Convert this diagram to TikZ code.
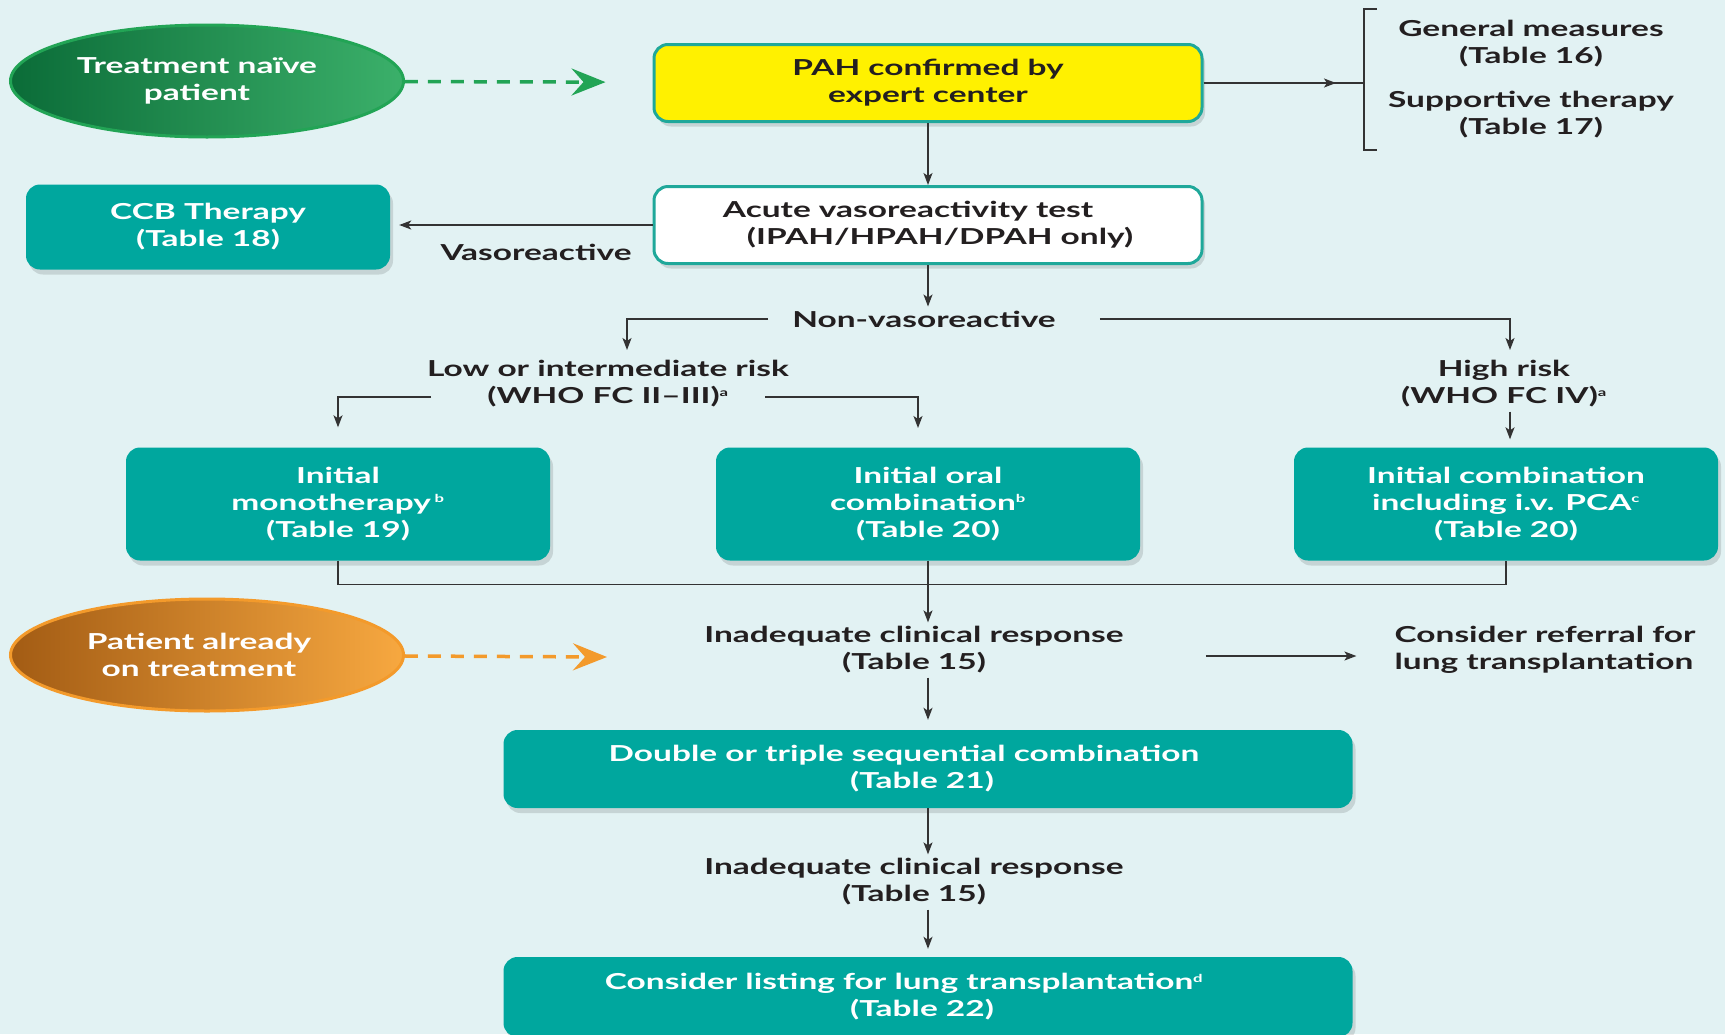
\documentclass[tikz,border=0pt]{standalone}
\usepackage{fontspec}
\setmainfont{Lato}[FakeStretch=1.52]
\usetikzlibrary{positioning,shapes.geometric,arrows.meta,shadows}

\definecolor{bgc}{HTML}{E2F2F3}
\definecolor{inkc}{HTML}{231F20}
\definecolor{linec}{HTML}{333333}
\definecolor{tealc}{HTML}{00A79E}
\definecolor{rimc}{HTML}{1FA89A}
\definecolor{yellowc}{HTML}{FFF100}
\definecolor{greendk}{HTML}{0B6C38}
\definecolor{greenlt}{HTML}{3BB06A}
\definecolor{greenrim}{HTML}{22A455}
\definecolor{orangedk}{HTML}{A35C14}
\definecolor{orangelt}{HTML}{F7A840}
\definecolor{orangerim}{HTML}{F39A2B}

\newcommand{\sups}[1]{\textsuperscript{\fontsize{11}{11}\selectfont #1}}

\begin{document}
\begin{tikzpicture}[x=1pt,y=-1pt]
    \tikzset{
    flow/.style={
        font=\fontsize{22}{27}\selectfont\bfseries,
        text=inkc,
        align=center,
        inner sep=4pt
    },
    tealbox/.style={
        flow,
        fill=tealc,
        text=white,
        rounded corners=14pt,
        minimum width=424pt,
        minimum height=113pt,
        drop shadow={shadow xshift=3pt,shadow yshift=-5pt,opacity=0.12,fill=black}
    },
    rimbox/.style={
        flow,
        draw=rimc,
        line width=3pt,
        rounded corners=14pt,
        minimum width=548pt,
        minimum height=77pt,
        drop shadow={shadow xshift=3pt,shadow yshift=-5pt,opacity=0.12,fill=black}
    },
    startnode/.style={
        flow,
        ellipse,
        text=white,
        line width=3pt,
        minimum width=393pt,
        minimum height=112pt
    },
    link/.style={
        draw=linec,
        line width=1.5pt,
        -{Stealth[length=12pt,width=9pt,inset=3pt]}
    },
    line/.style={
        draw=linec,
        line width=1.5pt
    },
    dashlink/.style={
        line width=3.5pt,
        dash pattern=on 13pt off 10pt,
        -{Stealth[length=34pt,width=27pt,inset=12pt]}
    }
}
        \clip (0,0) rectangle (1725,1034);
        \fill[bgc] (0,0) rectangle (1725,1034);

        % start points
        \node[startnode, draw=greenrim, left color=greendk, right color=greenlt] (naive) at (207,81) {Treatment naïve\hspace*{20pt}\\patient\hspace*{20pt}};
        \node[startnode, draw=orangerim, left color=orangedk, right color=orangelt] (treated) at (207,655) {Patient already\hspace*{16pt}\\on treatment\hspace*{16pt}};

        \node[rimbox, fill=yellowc] (pah) at (928,83) {PAH confirmed by\\expert center};
        \node[rimbox, fill=white, align=left] (acute) at (928,225) {Acute vasoreactivity test\\\hspace*{24pt}(IPAH/HPAH/DPAH only)};
        \node[tealbox, minimum width=364pt, minimum height=85pt] (ccb) at (208,227) {CCB Therapy\\(Table 18)};
        \node[flow] (vaso) at (536,252) {Vasoreactive};

        \node[flow] (general) at (1531,44) {General measures\\(Table 16)};
        \node[flow] (support) at (1531,115) {Supportive therapy\\(Table 17)};
        \coordinate (brk) at (1364,83);

        \node[flow] (nonvaso) at (924,319) {Non-vasoreactive};
        \node[flow] (lowrisk) at (608,384) {Low or intermediate risk\\(WHO FC II–III)\sups{a}};
        \node[flow] (highrisk) at (1504,384) {High risk\\(WHO FC IV)\sups{a}};
        \coordinate (lowtop) at (627,350);
        \coordinate (hightop) at (1510,350);
        \coordinate (lowL) at (431,397);
        \coordinate (lowR) at (765,397);
        \coordinate (oraltop) at (918,428);

        \node[tealbox] (mono) at (338,504) {Initial\\monotherapy\,\sups{b}\\(Table 19)};
        \node[tealbox] (oral) at (928,504) {Initial oral\\combination\sups{b}\\(Table 20)};
        \node[tealbox] (ivcomb) at (1506,504) {Initial combination\\including i.v. PCA\sups{c}\\(Table 20)};

        \node[flow] (inad1) at (914,650) {Inadequate clinical response\\(Table 15)};
        \node[flow, align=left] (referral) at (1545,650) {Consider referral for\\lung transplantation};
        \coordinate (orangeend) at (607,657);

        \node[tealbox, minimum width=849pt, minimum height=78pt] (double) at (928,769) {Double or triple sequential combination\hspace*{48pt}\\(Table 21)\hspace*{12pt}};
        \node[flow] (inad2) at (914,882) {Inadequate clinical response\\(Table 15)};
        \node[tealbox, minimum width=849pt, minimum height=80pt] (listing) at (928,997) {Consider listing for lung transplantation\sups{d}\hspace*{48pt}\\(Table 22)\hspace*{12pt}};

        \draw[dashlink, greenrim, shorten >=47pt] (naive) -- (pah);
        \draw[dashlink, orangerim] (treated) -- (orangeend);

        \draw[line] (pah.east) -- (brk);
        \draw[link] (pah.east) -- ([xshift=-28pt]brk);
        \draw[line] (1377,9) -- (1364,9) -- (1364,150) -- (1377,150);

        \draw[link] (pah) -- (acute);
        \draw[link, shorten >=9pt] (acute.west) -- (ccb.east |- acute.west);
        \draw[link] (acute.south) -- (acute.south |- nonvaso.north);
        \draw[link] ([xshift=-20pt]nonvaso.west) -| (lowtop);
        \draw[link] ([xshift=40pt]nonvaso.east) -| (hightop);
        \draw[link, shorten >=20pt] (lowL) -| (mono.north);
        \draw[link] (lowR) -| (oraltop);
        \draw[link, shorten >=8pt] ([xshift=6pt]highrisk.south) -- ([xshift=4pt]ivcomb.north);

        \draw[line] (mono.south) -- ++(0,24) -| (ivcomb.south);
        \draw[link] (oral.south) -- (oral.south |- inad1.north);
        \draw[link, shorten <=78pt, shorten >=34pt] ([yshift=-6pt]inad1.east |- referral.west) -- ([yshift=-6pt]referral.west);
        \draw[link, shorten >=10pt] (double.north |- inad1.south) -- (double.north);
        \draw[link] (double.south) -- (double.south |- inad2.north);
        \draw[link, shorten >=8pt] (listing.north |- inad2.south) -- (listing.north);
    \end{tikzpicture}
\end{document}
